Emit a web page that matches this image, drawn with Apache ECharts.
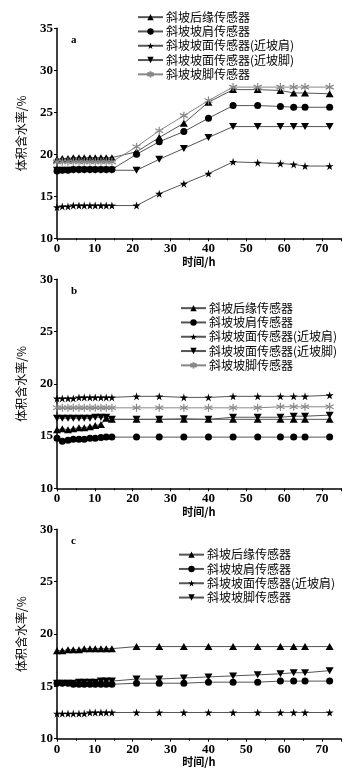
<!DOCTYPE html>
<html><head><meta charset="utf-8">
<script src="https://cdn.jsdelivr.net/npm/echarts@6/dist/echarts.min.js"></script>
<style>html,body{margin:0;padding:0;background:#fff}#c{width:361px;height:772px}</style>
</head><body><div id="c"></div>
<script>
const times = [0,1.4,2.9,4.3,5.8,7.2,8.7,10.1,11.6,13,14.5,21,27,33.5,40,46.5,53,59,62.5,65.5,72];
const xTicks = [0,10,20,30,40,50,60,70];
const panelLabels = ['a','b','c'];
const xName = '时间/h';
const yName = '体积含水率/%';
const namesAB = ['斜坡后缘传感器','斜坡坡肩传感器','斜坡坡面传感器(近坡肩)','斜坡坡面传感器(近坡脚)','斜坡坡脚传感器'];
const namesC = ['斜坡后缘传感器','斜坡坡肩传感器','斜坡坡面传感器(近坡肩)','斜坡坡脚传感器'];

// panel a
const aRear = [19.4,19.5,19.5,19.6,19.6,19.6,19.6,19.6,19.6,19.6,19.6,20.3,22.0,23.7,26.2,27.7,27.7,27.6,27.3,27.3,27.2];
const aShoulder = [18.0,18.1,18.1,18.2,18.2,18.2,18.2,18.2,18.2,18.2,18.2,20.0,21.5,22.7,24.3,25.8,25.8,25.7,25.6,25.6,25.6];
const aFaceShoulder = [13.7,13.8,13.8,13.9,13.9,13.9,13.9,13.9,13.9,13.9,13.9,13.9,15.3,16.5,17.7,19.1,19.0,18.9,18.8,18.6,18.6];
const aFaceToe = [18.1,18.1,18.1,18.1,18.1,18.1,18.1,18.1,18.1,18.1,18.1,18.1,19.4,20.7,22.0,23.3,23.3,23.3,23.3,23.3,23.3];
const aToe = [19.1,19.1,19.1,19.1,19.1,19.1,19.1,19.1,19.1,19.1,19.1,20.9,22.8,24.6,26.4,28.0,28.0,28.0,28.0,28.0,28.0];
// panel b
const bRear = [15.6,15.7,15.6,15.7,15.8,15.8,15.9,16.0,16.1,16.7,16.6,16.6,16.6,16.6,16.6,16.6,16.6,16.6,16.6,16.6,16.6];
const bShoulder = [14.8,14.5,14.6,14.7,14.7,14.7,14.8,14.8,14.85,14.9,14.9,14.9,14.9,14.9,14.9,14.9,14.9,14.9,14.9,14.9,14.9];
const bFaceShoulder = [18.6,18.6,18.6,18.6,18.7,18.7,18.7,18.7,18.7,18.7,18.7,18.8,18.8,18.7,18.7,18.8,18.8,18.8,18.8,18.8,18.9];
const bFaceToe = [16.7,16.7,16.7,16.7,16.7,16.7,16.7,16.8,16.8,16.8,16.6,16.6,16.6,16.65,16.6,16.8,16.8,16.8,16.9,16.9,17.0];
const bToe = [17.7,17.7,17.7,17.7,17.7,17.7,17.7,17.7,17.7,17.7,17.7,17.7,17.7,17.7,17.7,17.7,17.7,17.8,17.8,17.8,17.8];
// panel c
const cRear = [18.4,18.4,18.5,18.5,18.5,18.6,18.6,18.6,18.6,18.6,18.6,18.8,18.8,18.8,18.8,18.8,18.8,18.8,18.8,18.8,18.8];
const cShoulder = [15.3,15.3,15.3,15.2,15.2,15.2,15.2,15.2,15.2,15.2,15.2,15.3,15.3,15.3,15.4,15.4,15.4,15.5,15.5,15.5,15.5];
const cFaceShoulder = [12.4,12.4,12.4,12.4,12.4,12.4,12.5,12.5,12.5,12.5,12.5,12.5,12.5,12.5,12.5,12.5,12.5,12.5,12.5,12.5,12.5];
const cToe = [15.3,15.3,15.3,15.3,15.4,15.4,15.4,15.4,15.5,15.5,15.5,15.7,15.7,15.8,15.9,16.0,16.1,16.2,16.3,16.3,16.5];

const STAR = 'path://M50,0 L61,35 L98,35 L68,57 L79,91 L50,70 L21,91 L32,57 L2,35 L39,35 Z';
const DOWN = 'path://M0,0 L10,0 L5,9 Z';
const UP = 'path://M5,0 L10,9 L0,9 Z';
const AST = 'path://M5,0 L5,10 M0.7,2.5 L9.3,7.5 M0.7,7.5 L9.3,2.5';

const styles = {
  up:{symbol:UP,size:[8,7],color:'#000',line:'#555'},
  circle:{symbol:'circle',size:7,color:'#000',line:'#555'},
  star:{symbol:STAR,size:8,color:'#000',line:'#555'},
  down:{symbol:DOWN,size:[8,7],color:'#000',line:'#555'},
  ast:{symbol:AST,size:8,color:'#888',line:'#888',stroke:true}
};

function mk(panel, idx, name, vals, st){
  const s = styles[st];
  return {
    type:'line', name: panel+'|'+name, xAxisIndex: idx, yAxisIndex: idx,
    data: times.map((t,i)=>[t, vals[i]]),
    symbol: s.symbol, symbolSize: s.size, showSymbol:true,
    lineStyle:{color:s.line,width:1},
    itemStyle: s.stroke ? {color:'#fff', borderColor:s.color, borderWidth:1.2, opacity:1} : {color:s.color, borderWidth:0},
    emphasis:{disabled:true}, animation:false
  };
}

const grids = [
  {left:57, top:28.3, width:284, height:210},
  {left:57, top:279.3, width:284, height:209},
  {left:57, top:529.3, width:284, height:209.4}
];
const yMax = [35,30,30];
const labelFont = {fontFamily:'Liberation Serif', fontWeight:'bold', fontSize:13, color:'#000'};

const option = {
  backgroundColor:'#fff',
  animation:false,
  grid: grids,
  title: panelLabels.map((t,i)=>({text:t, left:66, top:[30,281,531][i], textStyle:{fontFamily:'Liberation Serif',fontWeight:'bold',fontSize:11,color:'#000'}})),
  xAxis: grids.map((g,i)=>({
    type:'value', gridIndex:i, min:0, max:75, interval:10,
    name:xName, nameLocation:'middle', nameGap:18,
    nameTextStyle:{fontFamily:'Noto Sans CJK SC', fontWeight:'bold', fontSize:11, color:'#000'},
    axisLine:{show:true,onZero:false,lineStyle:{color:'#000',width:1.5}},
    axisTick:{show:true,length:3,lineStyle:{color:'#000',width:1}},
    minorTick:{show:true,splitNumber:2,length:2,lineStyle:{color:'#000'}},
    splitLine:{show:false},
    axisLabel:Object.assign({margin:4, formatter:v=>xTicks.includes(v)?String(v):''}, labelFont)
  })),
  yAxis: grids.map((g,i)=>({
    type:'value', gridIndex:i, min:10, max:yMax[i], interval:5,
    name:yName, nameLocation:'middle', nameGap:30,
    nameTextStyle:{fontFamily:'Noto Sans CJK SC', fontSize:12, color:'#000'},
    axisLine:{show:true,onZero:false,lineStyle:{color:'#000',width:1.5}},
    axisTick:{show:true,length:3,lineStyle:{color:'#000',width:1}},
    minorTick:{show:false},
    splitLine:{show:false},
    axisLabel:Object.assign({margin:4}, labelFont)
  })),
  legend: [
    {left:132, top:6, names:namesAB, p:'a'},
    {left:175, top:297, names:namesAB, p:'b'},
    {left:173, top:543.5, names:namesC, p:'c'}
  ].map(l=>({
    orient:'vertical', left:l.left, top:l.top, itemWidth:25, itemHeight:8, itemGap:2,
    selectedMode:false,
    data:l.names.map(n=>l.p+'|'+n),
    formatter:n=>n.split('|')[1],
    textStyle:{fontFamily:'Noto Sans CJK SC', fontSize:12, lineHeight:12.3, color:'#000', padding:[0,0,0,-2]}
  })),
  series: [
    mk('a',0,namesAB[0],aRear,'up'),
    mk('a',0,namesAB[1],aShoulder,'circle'),
    mk('a',0,namesAB[2],aFaceShoulder,'star'),
    mk('a',0,namesAB[3],aFaceToe,'down'),
    mk('a',0,namesAB[4],aToe,'ast'),
    mk('b',1,namesAB[0],bRear,'up'),
    mk('b',1,namesAB[1],bShoulder,'circle'),
    mk('b',1,namesAB[2],bFaceShoulder,'star'),
    mk('b',1,namesAB[3],bFaceToe,'down'),
    mk('b',1,namesAB[4],bToe,'ast'),
    mk('c',2,namesC[0],cRear,'up'),
    mk('c',2,namesC[1],cShoulder,'circle'),
    mk('c',2,namesC[2],cFaceShoulder,'star'),
    mk('c',2,namesC[3],cToe,'down')
  ]
};
const chart = echarts.init(document.getElementById('c'), null, {renderer:'canvas'});
chart.setOption(option);
</script></body></html>
